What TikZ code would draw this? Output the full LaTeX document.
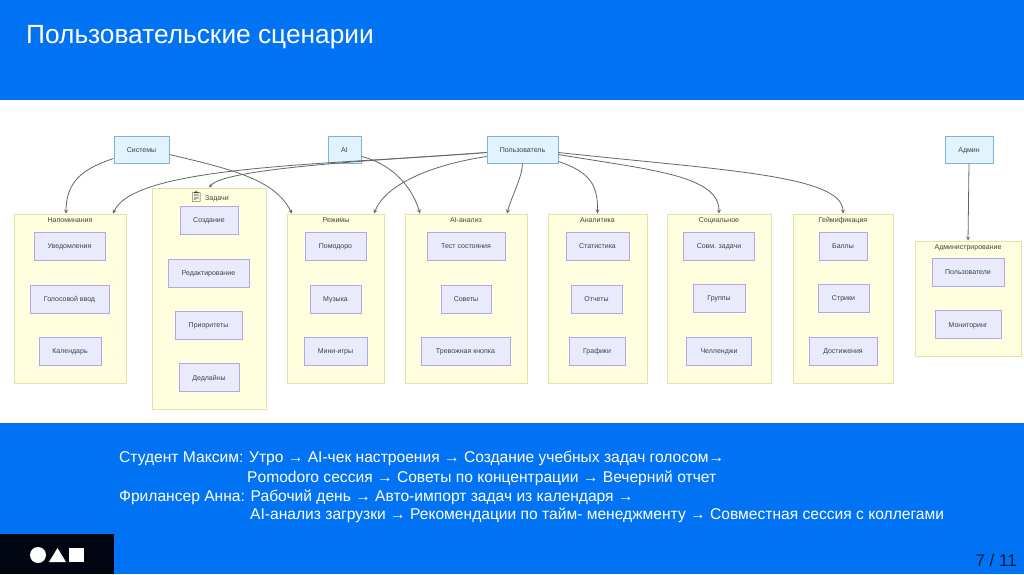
\documentclass[tikz,border=0pt]{standalone}
\usepackage{fontspec}
\setmainfont{Liberation Sans}
\newfontfamily\emojifont{Noto Emoji}
\definecolor{slideblue}{HTML}{0073F5}
\definecolor{slideblack}{HTML}{000512}
\definecolor{pagetext}{HTML}{001A40}
\definecolor{actorline}{HTML}{7FB2D9}
\definecolor{actorfill}{HTML}{E1F3FC}
\definecolor{itemline}{HTML}{B5A6E6}
\definecolor{itemfill}{HTML}{EAEAFD}
\definecolor{groupline}{HTML}{E3E3A6}
\definecolor{groupfill}{HTML}{FFFFE0}
\begin{document}
\begin{tikzpicture}[x=1pt,y=-1pt,>=stealth,font=\fontsize{7}{8}\selectfont,
	actor/.style={draw=actorline,fill=actorfill,line width=0.9pt,inner sep=0pt,minimum height=27pt,text=black!75,text height=6pt,text depth=1pt},
	item/.style={draw=itemline,fill=itemfill,line width=0.7pt,inner sep=0pt,minimum height=28pt,text=black!75,text height=6pt,text depth=1pt},
	group/.style={draw=groupline,fill=groupfill,line width=0.9pt,inner sep=0pt},
	grouptitle/.style={anchor=north,text=black!75,inner sep=0pt,yshift=-3.5pt},
	flow/.style={->,draw=black!60,line width=0.8pt},
	slidetext/.style={anchor=west,inner sep=0pt,text=white,font=\fontsize{15.6}{18}\selectfont},
	]
	\useasboundingbox (0,0) rectangle (1024,574);
	\fill[slideblue] (0,0) rectangle (1024,574);
	\fill[white] (0,100) rectangle (1024,423);
	\fill[slideblack] (0,534) rectangle (114,574);
	\fill[white] (38,555) circle (8);
	\fill[white] (57.5,548) -- (66,562) -- (49,562) -- cycle;
	\fill[white] (69,548) rectangle (84,562);
	\node[anchor=west,inner sep=0pt,text=white,font=\fontsize{26.3}{30}\selectfont] (title) at (26,37) {Пользовательские сценарии};
	\node[slidetext] (lineA) at (119,458.5) {Студент Максим: Утро → AI-чек настроения → Создание учебных задач голосом→};
	\node[slidetext] (lineB) at (247,478.5) {Pomodoro сессия → Советы по концентрации → Вечерний отчет};
	\node[slidetext] (lineC) at (119,497.5) {Фрилансер Анна: Рабочий день → Авто-импорт задач из календаря →};
	\node[slidetext] (lineD) at (250,515.5) {AI-анализ загрузки → Рекомендации по тайм- менеджменту → Совместная сессия с коллегами};
	\node[anchor=east,inner sep=0pt,text=pagetext,font=\fontsize{17}{20}\selectfont] (page) at (1017,560) {7 / 11};

	\foreach \name/\cx/\w/\txt in {sys/141.5/55/Системы,ai/344.5/33/AI,user/522.5/71/Пользователь,admin/969/48/Админ}
		\node[actor,minimum width=\w pt] (\name) at (\cx,149.5) {\txt};

	\foreach \name/\cx/\cy/\w/\h/\txt in {rem/70/298.5/112/169/Напоминания,mode/336/298.5/97/169/Режимы,
		anl/466/298.5/122/169/AI-анализ,stat/597.5/298.5/99/169/Аналитика,soc/719/298.5/104/169/Социальное,
		game/843/298.5/100/169/Геймификация,adm/968/298.5/106/115/Администрирование}
		\node[group,minimum width=\w pt,minimum height=\h pt,label={[grouptitle]north:\txt}] (\name) at (\cx,\cy) {};
	\node[group,minimum width=114pt,minimum height=221pt,label={[grouptitle]north:{{\emojifont\fontsize{11}{9}\selectfont 📋} Задачи}}] (task) at (209,298.5) {};

	\foreach \name/\cx/\cy/\w/\txt in {remA/69.5/246/71/Уведомления,remB/69.5/299/79/Голосовой ввод,remC/70/351/62/Календарь,
		taskA/209/220/58/Создание,taskB/208.5/273/81/Редактирование,taskC/208.5/325/67/Приоритеты,taskD/209/377.5/60/Дедлайны,
		modeA/335.5/246/61/Помодоро,modeB/335.5/299/51/Музыка,modeC/335.5/351/63/Мини-игры,
		anlA/466/246/78/Тест состояния,anlB/466/299/50/Советы,anlC/465.5/351/89/Тревожная кнопка,
		statA/597.5/246/63/Статистика,statB/596.5/299/51/Отчеты,statC/597/351/56/Графики,
		socA/719/246/71/Совм. задачи,socB/719/298/52/Группы,socC/719/351/65/Челленджи,
		gameA/843/246/48/Баллы,gameB/843.5/298/51/Стрики,gameC/843/351/68/Достижения,
		admA/968/272/72/Пользователи,admB/968/324.5/66/Мониторинг}
		\node[item,minimum width=\w pt] (\name) at (\cx,\cy) {\txt};

	\draw[flow] ([yshift=-9pt]sys.west) .. controls (85,168) and (66,180) .. ([xshift=-4pt]rem.north);
	\draw[flow] ([yshift=-5pt]sys.east) .. controls (235,170) and (275,180) .. ([xshift=-44pt]mode.north);
	\draw[flow] ([yshift=-3pt]user.west) .. controls (330,165) and (135,165) .. ([xshift=43pt]rem.north);
	\draw[flow] ([yshift=-3pt]user.west) .. controls (380,160) and (225,168) .. (task.north);
	\draw[flow] ([yshift=-7pt]user.west) .. controls (430,165) and (385,185) .. ([xshift=38pt]mode.north);
	\draw[flow] ([yshift=-7pt]ai.east) .. controls (385,162) and (410,180) .. ([xshift=-46pt]anl.north);
	\draw[flow] (user.south) .. controls (522,178) and (512,195) .. ([xshift=41pt]anl.north);
	\draw[flow] ([yshift=-12pt]user.east) .. controls (590,172) and (598,185) .. (stat.north);
	\draw[flow] ([yshift=-5pt]user.east) .. controls (650,170) and (719,175) .. (soc.north);
	\draw[flow] ([yshift=-3pt]user.east) .. controls (720,170) and (843,175) .. (game.north);
	\draw[flow] (admin.south) -- (adm.north);
\end{tikzpicture}
\end{document}
